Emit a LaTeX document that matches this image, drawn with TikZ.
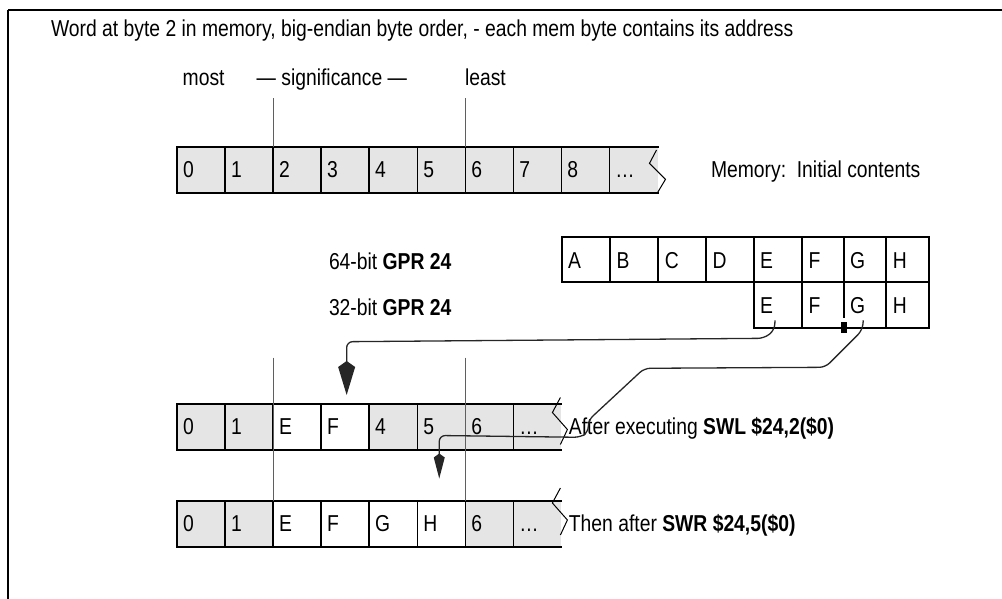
\documentclass[tikz,border=0pt]{standalone}
\usepackage{fontspec}
\setmainfont{Liberation Sans}[FakeStretch=0.84]
\usetikzlibrary{arrows.meta,calc}
\definecolor{memgray}{RGB}{229,229,229}
\definecolor{guidegray}{RGB}{95,95,95}
\begin{document}
\begin{tikzpicture}[x=1pt,y=-1pt,
  every node/.style={font=\fontsize{23}{26}\selectfont},
  lbl/.style={inner sep=0pt, outer sep=0pt, anchor=base west},
  cellbox/.style={anchor=north west, inner sep=0pt, outer sep=0pt, minimum height=46pt, minimum width=48.05pt, draw=none},
  rowedge/.style={line width=2pt, line cap=rect},
  divider/.style={line width=1.5pt},
  guide/.style={line width=1pt, draw=guidegray},
  zig/.style={line width=1pt},
  conn/.style={line width=1.3pt, draw=black!85, rounded corners=6pt},
  bigkite/.style={-{Kite[length=34pt,width=17pt,inset=6pt]}},
  smallkite/.style={-{Kite[length=25pt,width=11pt,inset=4pt]}},
  gprcell/.style={anchor=north west, inner sep=0pt, outer sep=0pt, minimum height=45pt, draw, line width=1.8pt},
  gprline/.style={line width=1.8pt},
]
\useasboundingbox (0,0) rectangle (1002,599);
% frame
\draw[line width=2pt] (8,10.5) -- (1002,10.5);
\draw[line width=1.8pt] (8,10) -- (8,599);

% headings
\node[lbl] (title) at (51,36.5) {Word at byte 2 in memory, big-endian byte order, - each mem byte contains its address};
\node[lbl] (most) at (182.7,86) {most};
\node[lbl] (sig) at (256.7,86) {— significance —};
\node[lbl] (least) at (465,86) {least};

% memory row 1
\foreach \t [count=\i from 0] in {0,1,2,3,4,5,6,7,8,…} {
  \node[cellbox, fill=memgray] (a\i) at ({177+48.05*\i},147) {};
  \node[lbl] at ($(a\i.north west)+(6,30.5)$) {\t};
}
\foreach \i in {0,...,9} \draw[divider] (a\i.north west) -- (a\i.south west);
\draw[rowedge] (a0.north west) -- (a9.north east);
\draw[rowedge] (a0.south west) -- (a9.south east);
\draw[zig] ($(a9.north east)+(-1,3)$) -- ++(-7,13.3) -- ++(16,16) -- ++(-8,13.4);
\draw[guide] (a2.north west) -- ++(0,-49);
\draw[guide] (a6.north west) -- ++(0,-49);
\node[lbl] (memlbl) at (711,178) {Memory:\ \ Initial contents};

% GPR rows
\node[lbl] (l64) at (329,269.5) {64-bit \textbf{GPR 24}};
\node[lbl] (l32) at (329,315) {32-bit \textbf{GPR 24}};
\foreach \t/\x/\w in {A/561.7/48.3, B/610/48.3, C/658.3/47.7, D/706/47.7, E/753.7/48.3, F/802/41.7, G/843.7/42.6, H/886.3/43} {
  \node[gprcell, minimum width=\w pt] (g\t) at (\x,237.3) {};
  \node[lbl] at ($(g\t.north west)+(6.5,31.5)$) {\t};
}
\foreach \t/\x/\w in {E/753.7/48.3, F/802/41.7, G/843.7/42.6, H/886.3/43} {
  \node[cellbox, minimum width=\w pt] (h\t) at (\x,282.3) {};
  \node[lbl] at ($(h\t.north west)+(6.5,31.5)$) {\t};
}
\draw[gprline] (hE.north west) -- (hE.south west) -- (hH.south east) -- (hH.north east);
\draw[gprline] (hF.north west) -- (hF.south west);
\draw[gprline] (hH.north west) -- (hH.south west);
\draw[gprline] (hG.north west) -- ++(0,35.7);
\fill ($(hG.south west)+(-3,-6.6)$) rectangle ++(6,11.6);

% memory row 2
\foreach \t/\f [count=\i from 0] in {0/memgray,1/memgray,E/white,F/white,4/memgray,5/memgray,6/memgray,…/memgray} {
  \node[cellbox, fill=\f] (b\i) at ({177+48.05*\i},403.5) {};
  \node[lbl] at ($(b\i.north west)+(6,30.5)$) {\t};
}
% memory row 3
\foreach \t/\f [count=\i from 0] in {0/memgray,1/memgray,E/white,F/white,G/white,H/white,6/memgray,…/memgray} {
  \node[cellbox, fill=\f] (c\i) at ({177+48.05*\i},501) {};
  \node[lbl] at ($(c\i.north west)+(6,30.5)$) {\t};
}
\foreach \r in {b,c} {
  \foreach \i in {0,...,7} \draw[divider] (\r\i.north west) -- (\r\i.south west);
  \draw[rowedge] (\r0.north west) -- (\r7.north east);
  \draw[rowedge] (\r0.south west) -- (\r7.south east);
}
\draw[zig] ($(b7.north east)+(-1,-6)$) -- ++(-8,15) -- ++(15,17) -- ++(-7,15);
\draw[zig] ($(c7.north east)+(-1,-13)$) -- ++(-8,15) -- ++(15,17) -- ++(-7,15);
\draw[guide] ($(b2.north west)+(0,-46)$) -- (c2.north west);
\draw[guide] ($(b6.north west)+(0,-46)$) -- (c6.north west);
\node[lbl] (swl) at ($(b7.north east)+(7.5,30.5)$) {After executing \textbf{SWL \$24,2(\$0)}};
\node[lbl] (swr) at ($(c7.north east)+(7.5,30.5)$) {Then after \textbf{SWR \$24,5(\$0)}};

% connectors
\coordinate (s1) at ($(hE.south west)+(21.3,-8)$);
\coordinate (t1) at ($(b3.north west)+(25.5,-8.5)$);
\draw[conn, bigkite] (s1) -- ++(-0.5,10) -- ++(-10.5,8) -- ($(t1)+(0,-53.3)$) -- (t1);
\coordinate (s2) at ($(hG.south west)+(19.6,-8)$);
\coordinate (t2) at ($(b5.north west)+(22,75)$);
\draw[conn, smallkite] (s2) -- ++(-1,10) -- ++(-37,37) -- ++(-181,1) -- ++(-56,52) -- ++(0,12) -- ++(-8,5) -- ($(t2)+(0,-43)$) -- (t2);
\end{tikzpicture}
\end{document}
